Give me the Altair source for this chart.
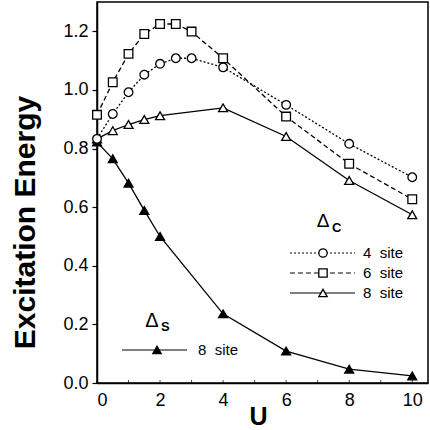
import altair as alt
import pandas as pd

# ---- data ----
U_c46 = [0, 0.5, 1, 1.5, 2, 2.5, 3, 4, 6, 8, 10]
E_4site = [0.833, 0.918, 0.992, 1.052, 1.089, 1.108, 1.108, 1.077, 0.949, 0.816, 0.702]
E_6site = [0.915, 1.026, 1.123, 1.191, 1.225, 1.225, 1.199, 1.108, 0.909, 0.748, 0.627]
U_8 = [0, 0.5, 1, 1.5, 2, 4, 6, 8, 10]
E_8site_c = [0.833, 0.861, 0.882, 0.899, 0.912, 0.939, 0.841, 0.691, 0.574]
E_8site_s = [0.822, 0.765, 0.682, 0.589, 0.500, 0.236, 0.109, 0.047, 0.024]

y_tick_values = [0, 0.1, 0.2, 0.3, 0.4, 0.5, 0.6, 0.7, 0.8, 0.9, 1.0, 1.1, 1.2]
x_label_values = [0, 2, 4, 6, 8, 10]
x_minor_ticks = [0, 1, 2, 3, 4, 5, 6, 7, 8, 9, 10]

FONT = "Liberation Sans"

df4 = pd.DataFrame({"U": U_c46, "E": E_4site})
df6 = pd.DataFrame({"U": U_c46, "E": E_6site})
df8c = pd.DataFrame({"U": U_8, "E": E_8site_c})
df8s = pd.DataFrame({"U": U_8, "E": E_8site_s})
dft = pd.DataFrame({"U": x_minor_ticks})

xaxis = alt.Axis(
    values=x_label_values, ticks=False, grid=False, title="U",
    titleFont=FONT, titleFontSize=25, titleFontWeight="bold", titleColor="black",
    titleX=161, titleY=33, titleBaseline="middle", titleAlign="center",
    labelFont=FONT, labelFontSize=18, labelColor="black", labelPadding=8,
    domainColor="black", domainWidth=1.5,
)
yaxis = alt.Axis(
    values=y_tick_values, grid=False, title="Excitation Energy",
    labelExpr="round(datum.value*10) % 2 == 0 ? format(datum.value, '.1f') : ''",
    tickSize=5, tickColor="black", tickWidth=1.2,
    titleFont=FONT, titleFontSize=30, titleFontWeight="bold", titleColor="black",
    titleAngle=-90, titleX=-72, titleY=220, titleAlign="center", titleBaseline="middle",
    labelFont=FONT, labelFontSize=18, labelColor="black", labelPadding=4,
    domainColor="black", domainWidth=1.5,
)
X = alt.X("U:Q", scale=alt.Scale(domain=[0, 10.5], nice=False, zero=False), axis=xaxis)
Y = alt.Y("E:Q", scale=alt.Scale(domain=[0, 1.3], nice=False), axis=yaxis)


def series(df, dash, shape, fill, size):
    lk = dict(color="black", strokeWidth=1.3, clip=False)
    if dash:
        lk["strokeDash"] = dash
    line = alt.Chart(df).mark_line(**lk).encode(x=X, y=Y)
    pts = alt.Chart(df).mark_point(
        shape=shape, filled=True, fill=fill, stroke="black", strokeWidth=1.3,
        size=size, opacity=1, clip=False,
    ).encode(x=X, y=Y)
    return [line, pts]


layers = []
layers += series(df8s, None, "triangle-up", "black", 80)
layers += series(df8c, None, "triangle-up", "white", 80)
layers += series(df6, [5, 3], "square", "white", 75)
layers += series(df4, [2, 2], "circle", "white", 75)

# inward minor ticks on the x axis
layers.append(
    alt.Chart(dft).mark_tick(orient="vertical", color="black", size=3, thickness=1, yOffset=-1.5)
    .encode(x=X, y=alt.datum(0, scale=alt.Scale(domain=[0, 1.3], nice=False)))
)

one = pd.DataFrame({"a": [0]})


def legend_entry(x1, x2, xm, y, dash, shape, fill, label, xt):
    out = []
    rk = dict(color="black", strokeWidth=1.2)
    if dash:
        rk["strokeDash"] = dash
    out.append(alt.Chart(one).mark_rule(**rk).encode(
        x=alt.value(x1), x2=alt.value(x2), y=alt.value(y)))
    out.append(alt.Chart(one).mark_point(
        shape=shape, filled=True, fill=fill, stroke="black", strokeWidth=1.3,
        size=70, opacity=1).encode(x=alt.value(xm), y=alt.value(y)))
    out.append(alt.Chart(one).mark_text(
        text=label, font=FONT, fontSize=15, align="left", baseline="middle", color="black"
    ).encode(x=alt.value(xt), y=alt.value(y)))
    return out


layers += legend_entry(193, 258, 226, 251, [2, 2], "circle", "white", "4\u00a0 site", 266)
layers += legend_entry(193, 258, 226, 271, [5, 3], "square", "white", "6\u00a0 site", 266)
layers += legend_entry(193, 258, 226, 291, None, "triangle-up", "white", "8\u00a0 site", 266)
layers += legend_entry(25, 90, 60, 348, None, "triangle-up", "black", "8\u00a0 site", 101)


def txt(s, x, y, size, weight, align):
    return alt.Chart(one).mark_text(
        text=s, font=FONT, fontSize=size, fontWeight=weight, align=align,
        baseline="alphabetic", color="black"
    ).encode(x=alt.value(x), y=alt.value(y))


layers.append(txt("\u0394", 226, 225, 19, "normal", "center"))
layers.append(txt("C", 235, 230, 13, "bold", "left"))
layers.append(txt("\u0394", 55, 325, 20, "normal", "center"))
layers.append(txt("S", 64, 329, 13, "bold", "left"))

chart = alt.layer(*layers).properties(
    width=331, height=381, autosize="none",
    padding={"left": 97, "top": 2, "right": 2, "bottom": 47},
    background="white",
).configure_view(stroke="black", strokeWidth=1.5)

chart.save("out.html", embed_options={"renderer": "svg", "actions": False})
